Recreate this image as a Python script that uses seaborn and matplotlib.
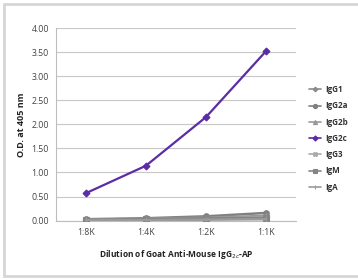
import numpy as np
import pandas as pd
import matplotlib
matplotlib.use('Agg')
import matplotlib.pyplot as plt
import seaborn as sns
from matplotlib.patches import Rectangle

# data
dilutions = ['1:8K', '1:4K', '1:2K', '1:1K']
igg1 = [0.02, 0.03, 0.05, 0.07]
igg2a = [0.03, 0.05, 0.09, 0.16]
igg2b = [0.02, 0.04, 0.06, 0.10]
igg2c = [0.57, 1.14, 2.15, 3.52]
igg3 = [0.01, 0.02, 0.04, 0.06]
igm = [0.02, 0.03, 0.05, 0.05]
iga = [0.01, 0.01, 0.02, 0.03]
y_ticks = [0.0, 0.5, 1.0, 1.5, 2.0, 2.5, 3.0, 3.5, 4.0]

series = {'IgG1': igg1, 'IgG2a': igg2a, 'IgG2b': igg2b, 'IgG2c': igg2c,
          'IgG3': igg3, 'IgM': igm, 'IgA': iga}
rows = []
for name, vals in series.items():
    for d, v in zip(dilutions, vals):
        rows.append({'Dilution': d, 'OD': v, 'Isotype': name})
df = pd.DataFrame(rows)

palette = {'IgG1': '#8c8c8c', 'IgG2a': '#808080', 'IgG2b': '#999999', 'IgG2c': '#5b2ca6',
           'IgG3': '#aaaaaa', 'IgM': '#858585', 'IgA': '#9a9a9a'}
markers = {'IgG1': 'P', 'IgG2a': 'o', 'IgG2b': '^', 'IgG2c': 'D',
           'IgG3': 'X', 'IgM': 's', 'IgA': '|'}

sns.set_style('white')
plt.rcParams['font.family'] = ['Open Sans', 'DejaVu Sans']

fig = plt.figure(figsize=(3.58, 2.8), dpi=100)
fig.patches.append(Rectangle((0.012, 0.014), 0.99, 0.972, transform=fig.transFigure,
                             fill=False, edgecolor='#d6d6d6', linewidth=2))
ax = fig.add_axes([0.156, 0.212, 0.671, 0.688])

order = list(series.keys())
for name in order:
    sub = df[df['Isotype'] == name]
    sns.lineplot(data=sub, x='Dilution', y='OD', ax=ax, color=palette[name],
                 marker=markers[name], markersize=4 if name != 'IgG2c' else 3.5,
                 markeredgewidth=0.8, markeredgecolor=palette[name],
                 linewidth=1.6 if name == 'IgG2c' else 1.8, label=name,
                 zorder=5 if name == 'IgG2c' else 3)

ax.set_xlim(-0.5, 3.5)
ax.set_ylim(0, 4)
ax.set_yticks(y_ticks)
ax.set_yticklabels([f'{t:.2f}' for t in y_ticks])
ax.yaxis.grid(True, color='#c8c8c8', linewidth=0.8)
ax.set_axisbelow(True)
for s in ['top', 'right']:
    ax.spines[s].set_visible(False)
for s in ['left', 'bottom']:
    ax.spines[s].set_color('#bdbdbd')
    ax.spines[s].set_linewidth(0.8)

ax.tick_params(axis='both', labelsize=6.3, colors='#bdbdbd', labelcolor='#444444')
ax.tick_params(axis='y', length=3, width=0.6, pad=2)
ax.tick_params(axis='x', which='major', length=0, pad=5)
ax.set_xticks([0.5, 1.5, 2.5], minor=True)
ax.tick_params(axis='x', which='minor', length=3, width=0.6, colors='#bdbdbd')

ax.set_xlabel('Dilution of Goat Anti-Mouse IgG$_{2c}$-AP', fontsize=6, fontweight='bold',
              color='#222222', labelpad=8)
ax.set_ylabel('O.D. at 405 nm', fontsize=6.5, fontweight='bold', color='#222222', labelpad=4)

leg = ax.legend(loc='upper left', bbox_to_anchor=(1.04, 0.72), frameon=False,
                fontsize=5.8, handlelength=1.5, labelspacing=0.9, handletextpad=0.5,
                markerscale=0.75, borderaxespad=0)
for t in leg.get_texts():
    t.set_fontweight('bold')
    t.set_color('#333333')
for h in leg.get_lines():
    h.set_linewidth(1.2)

fig.savefig('out.png', dpi=100)
